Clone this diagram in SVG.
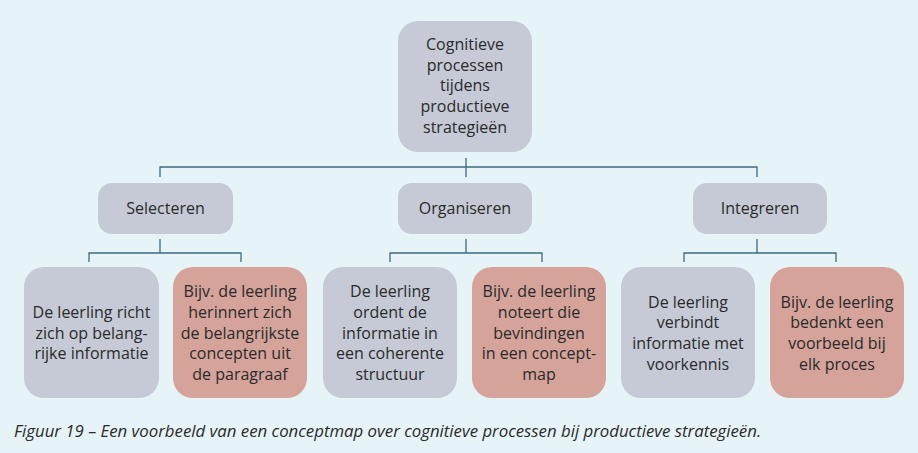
<svg xmlns="http://www.w3.org/2000/svg" width="918" height="453" viewBox="0 0 918 453">
<style>
.bg{fill:#E6F4F8}
.g{fill:#C5CAD6}
.r{fill:#D5A39A}
.t{font-family:"Open Sans","Liberation Sans",sans-serif;font-size:16px;fill:#2a2a2a;text-anchor:middle}
.c{font-family:"Open Sans","Liberation Sans",sans-serif;font-size:16.8px;font-style:italic;fill:#2a2a2a}
.ln{fill:none;stroke:#3F6A7E;stroke-width:1.3}
</style>
<rect class="bg" x="0" y="0" width="918" height="453"/>
<g id="connectors">
<path class="ln" d="M466 158V177M160 177V167H757V177"/>
<path class="ln" d="M160 239V253M89 262V253H241V262"/>
<path class="ln" d="M466 239V253M390 262V253H542V262"/>
<path class="ln" d="M757 239V253M684 262V253H836V262"/>
</g>
<g id="root">
<rect class="g" x="398" y="21" width="134" height="131" rx="20"/>
<text class="t" x="465" y="50">Cognitieve</text>
<text class="t" x="465" y="70.7">processen</text>
<text class="t" x="465" y="91.4">tijdens</text>
<text class="t" x="465" y="112.1">productieve</text>
<text class="t" x="465" y="132.8">strategieën</text>
</g>
<g id="selecteren">
<rect class="g" x="98" y="183" width="135" height="51" rx="14"/>
<text class="t" x="165.5" y="214">Selecteren</text>
</g>
<g id="organiseren">
<rect class="g" x="398" y="183" width="134" height="51" rx="14"/>
<text class="t" x="465" y="214">Organiseren</text>
</g>
<g id="integreren">
<rect class="g" x="693" y="183" width="134" height="51" rx="14"/>
<text class="t" x="760" y="214">Integreren</text>
</g>
<g id="sel1">
<rect class="g" x="24" y="267" width="135" height="131" rx="20"/>
<text class="t" x="91.5" y="318">De leerling richt</text>
<text class="t" x="91.5" y="338.7">zich op belang-</text>
<text class="t" x="91.5" y="359.4">rijke informatie</text>
</g>
<g id="sel2">
<rect class="r" x="173" y="267" width="134" height="131" rx="20"/>
<text class="t" x="240" y="297.3">Bijv. de leerling</text>
<text class="t" x="240" y="318">herinnert zich</text>
<text class="t" x="240" y="338.7">de belangrijkste</text>
<text class="t" x="240" y="359.4">concepten uit</text>
<text class="t" x="240" y="380.1">de paragraaf</text>
</g>
<g id="org1">
<rect class="g" x="323" y="267" width="134" height="131" rx="20"/>
<text class="t" x="390" y="297.3">De leerling</text>
<text class="t" x="390" y="318">ordent de</text>
<text class="t" x="390" y="338.7">informatie in</text>
<text class="t" x="390" y="359.4">een coherente</text>
<text class="t" x="390" y="380.1">structuur</text>
</g>
<g id="org2">
<rect class="r" x="472" y="267" width="134" height="131" rx="20"/>
<text class="t" x="539" y="297.3">Bijv. de leerling</text>
<text class="t" x="539" y="318">noteert die</text>
<text class="t" x="539" y="338.7">bevindingen</text>
<text class="t" x="539" y="359.4">in een concept-</text>
<text class="t" x="539" y="380.1">map</text>
</g>
<g id="int1">
<rect class="g" x="621" y="267" width="134" height="131" rx="20"/>
<text class="t" x="688" y="307.6">De leerling</text>
<text class="t" x="688" y="328.3">verbindt</text>
<text class="t" x="688" y="349">informatie met</text>
<text class="t" x="688" y="369.7">voorkennis</text>
</g>
<g id="int2">
<rect class="r" x="770" y="267" width="134" height="131" rx="20"/>
<text class="t" x="837" y="307.6">Bijv. de leerling</text>
<text class="t" x="837" y="328.3">bedenkt een</text>
<text class="t" x="837" y="349">voorbeeld bij</text>
<text class="t" x="837" y="369.7">elk proces</text>
</g>
<text class="c" x="14" y="437">Figuur 19 – Een voorbeeld van een conceptmap over cognitieve processen bij productieve strategieën.</text>
</svg>
